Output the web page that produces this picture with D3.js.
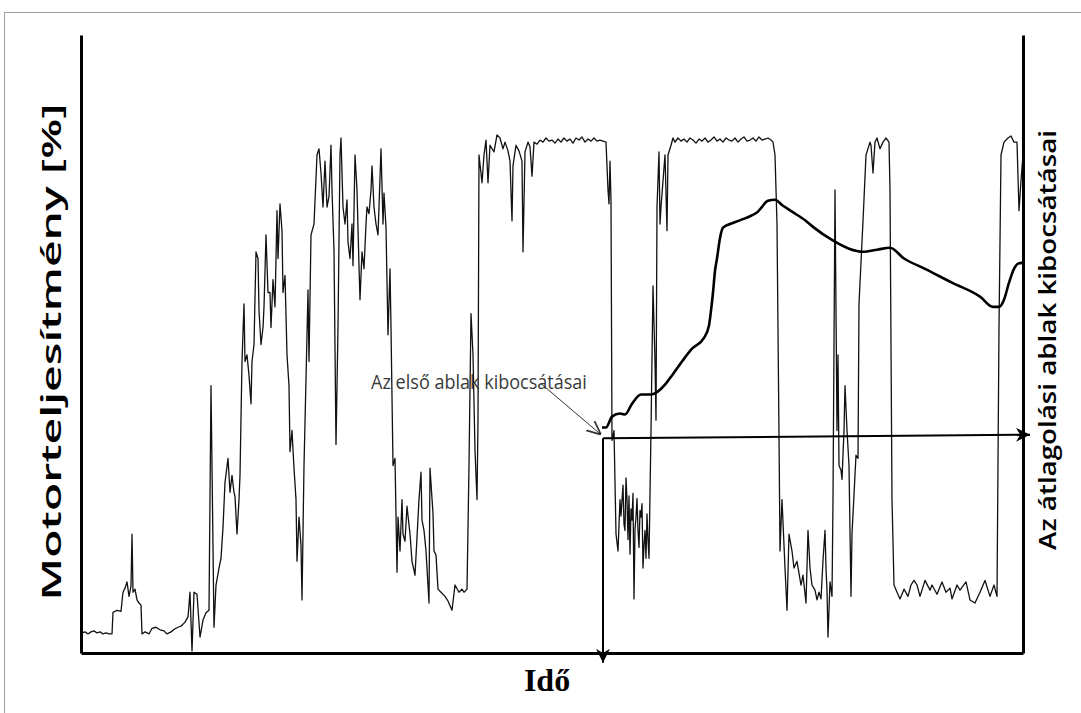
<!DOCTYPE html>
<html>
<head>
<meta charset="utf-8">
<script src="https://cdn.jsdelivr.net/npm/d3@7"></script>
<style>
  body { margin: 0; background: #fff; }
  svg { display: block; }
</style>
</head>
<body>
<div class="svg-container"></div>
<script>
// engine power trace: [time, power %]
const powerTrace = [
  [1,3.9],[4,4.1],[7,3.7],[10,4.1],[13,4.3],[16,3.9],[19,4.1],[22,3.7],[25,3.9],[28,3.7],[31,3.7],
  [32,7.9],[36,8.3],[40,8.1],[42,11.8],[44,12.6],[46,13.8],[48,11.0],[50,13.0],[51,23.1],[52,11.8],
  [54,12.4],[56,10.3],[58,9.7],[60,9.3],[61,3.7],[64,4.1],[68,3.7],[71,4.8],[75,5.0],[79,4.5],[83,4.3],
  [86,3.7],[90,4.1],[94,4.7],[97,5.0],[100,5.2],[104,6.0],[107,7.0],[109,11.8],[111,0.4],[113,11.8],
  [116,11.4],[119,3.1],[122,6.4],[125,7.8],[128,8.3],[130,51.9],[133,5.0],[135,13.2],[138,16.5],
  [140,18.4],[142,24.4],[144,33.1],[147,37.8],[149,31.2],[151,34.5],[153,31.2],[154,30.4],[156,23.1],
  [158,29.8],[159,34.5],[161,56.6],[163,67.8],[164,56.6],[166,57.9],[168,53.9],[170,48.4],[171,56.6],
  [173,59.9],[175,77.9],[177,76.6],[178,66.5],[180,59.9],[182,63.2],[183,67.2],[185,81.2],[187,70.0],
  [189,70.0],[190,63.2],[192,72.5],[194,67.2],[196,85.9],[197,76.6],[199,87.2],[201,82.0],[202,70.0],
  [204,73.3],[206,57.9],[208,51.9],[209,39.1],[211,43.2],[213,35.9],[215,29.8],[216,17.8],[218,26.4],
  [220,20.9],[221,10.3],[223,36.4],[225,53.1],[227,70.5],[228,56.6],[230,81.2],[233,83.3],[236,96.7],
  [238,97.9],[240,93.2],[242,86.6],[244,95.5],[246,86.6],[248,88.6],[250,98.6],[251,89.9],[253,78.1],
  [255,40.5],[257,63.2],[259,96.7],[260,100.0],[262,86.6],[264,83.3],[266,88.0],[267,79.8],[269,76.6],
  [271,83.3],[272,75.2],[274,96.7],[276,89.9],[278,75.2],[279,68.6],[281,77.9],[283,74.6],[285,83.3],
  [286,86.6],[288,85.3],[290,89.9],[291,94.6],[293,86.6],[295,83.3],[297,81.2],[298,86.6],[300,97.9],
  [302,83.3],[303,89.3],[305,82.6],[307,61.8],[309,74.6],[310,63.2],[312,36.4],[314,37.8],[316,15.7],
  [317,26.4],[319,19.8],[321,29.8],[322,23.1],[324,21.7],[326,28.5],[329,23.1],[331,17.8],[334,15.1],
  [338,29.8],[340,35.1],[341,25.8],[343,23.8],[345,19.8],[348,9.7],[349,35.9],[352,27.1],[353,19.8],
  [355,19.0],[357,12.4],[360,11.8],[364,11.0],[367,10.1],[371,8.3],[374,13.2],[378,11.8],[381,12.4],
  [383,11.8],[386,12.4],[388,36.4],[390,65.9],[392,57.9],[394,39.3],[396,29.8],[397,45.2],[398,96.7],
  [401,91.3],[403,96.7],[405,99.6],[407,91.3],[409,98.6],[413,97.3],[416,100.6],[419,100.0],[422,97.9],
  [424,99.2],[427,97.5],[429,95.5],[431,83.9],[432,94.6],[435,98.6],[438,97.5],[441,95.5],[442,77.9],
  [444,97.3],[447,99.2],[449,98.3],[451,92.6],[453,99.2],[456,98.8],[459,99.6],[462,99.2],[465,100.0],
  [468,99.4],[471,99.6],[474,99.0],[477,99.8],[480,99.2],[483,100.0],[486,99.4],[489,99.8],[492,99.0],
  [495,100.0],[498,99.6],[501,100.2],[504,99.2],[507,99.8],[510,99.4],[513,100.0],[516,99.4],[519,99.6],
  [522,99.4],[525,99.2],[527,89.9],[528,87.2],[529,95.5],[530,87.8],[531,41.3],[533,43.2],[535,23.1],
  [537,19.8],[539,29.8],[540,26.6],[542,32.6],[543,25.0],[544,23.8],[545,34.0],[546,29.7],[547,22.0],
  [548,30.5],[549,19.2],[550,28.0],[551,25.8],[552,31.0],[553,10.5],[554,24.0],[555,26.4],[556,30.0],
  [557,23.8],[558,20.5],[559,27.7],[560,26.4],[561,29.0],[562,16.5],[563,21.0],[564,23.8],[565,18.4],
  [566,27.0],[567,21.9],[568,18.4],
  [570,43.2],[572,71.3],[574,56.6],[575,45.2],[576,86.6],[578,97.3],[579,83.3],[580,86.6],[584,96.7],
  [586,82.0],[587,96.7],[590,98.6],[592,100.0],[594,99.2],[597,100.0],[600,99.4],[603,99.8],[606,99.2],
  [609,100.0],[612,99.6],[615,99.0],[618,99.8],[621,99.4],[624,100.0],[627,99.2],[630,99.6],[633,100.2],
  [636,99.4],[639,99.8],[642,99.2],[645,100.0],[648,99.6],[651,99.4],[654,100.0],[657,99.2],[660,99.8],
  [663,100.2],[666,99.4],[669,99.6],[672,100.0],[675,99.4],[678,100.2],[681,99.6],[684,99.8],[687,100.0],
  [690,99.6],[692,99.2],[694,96.7],[696,83.3],[698,42.4],[699,19.8],[701,29.8],[704,16.5],[706,8.3],
  [708,23.1],[711,19.8],[713,16.5],[716,17.8],[720,13.2],[722,15.1],[725,9.7],[727,23.8],[729,16.5],
  [731,13.2],[734,12.2],[736,10.3],[738,11.8],[740,10.5],[742,18.0],[744,23.8],[745,16.5],[746,12.2],
  [747,3.1],[749,13.8],[751,11.0],[752,29.8],[754,89.9],[756,43.2],[757,57.9],[758,36.4],[760,35.5],
  [761,33.7],[763,43.2],[764,51.9],[766,43.2],[768,36.4],[770,11.0],[771,23.1],[775,38.4],[777,37.8],
  [778,67.8],[782,83.9],[785,96.7],[789,99.2],[790,98.6],[792,93.2],[794,99.2],[796,100.0],[799,97.9],
  [802,99.2],[805,100.0],[808,99.2],[809,89.9],[811,29.8],[813,13.2],[816,11.8],[819,10.5],[823,12.4],
  [827,11.0],[830,13.2],[833,14.1],[836,13.2],[839,11.0],[844,14.1],[849,12.2],[851,13.2],[856,11.4],
  [861,13.8],[865,11.8],[869,12.6],[871,10.5],[876,13.2],[879,12.2],[885,13.8],[889,10.3],[894,9.7],
  [899,11.8],[904,14.1],[909,11.0],[913,13.2],[916,11.0],[918,63.2],[920,96.7],[923,99.2],[927,100.0],
  [930,100.4],[933,99.2],[936,99.2],[938,85.9],[940,91.7],[942,96.7]
];

// averaging window emissions (right axis, no scale shown)
const emissions = [
  [521,43.8],[525,43.8],[531,45.9],[539,46.5],[544,46.3],[551,48.4],[560,50.2],[570,50.2],[577,50.8],
  [584,52.1],[591,53.9],[601,56.6],[611,59.1],[623,61.2],[628,63.6],[630,66.5],[632,70.0],[634,74.2],
  [636,76.6],[639,80.6],[642,82.6],[649,83.3],[660,84.1],[670,84.9],[677,85.7],[680,86.4],[687,87.8],
  [694,88.0],[701,87.0],[711,85.7],[725,83.9],[733,82.6],[751,80.2],[768,78.5],[782,77.9],[796,78.3],
  [809,78.7],[823,76.6],[844,74.6],[871,71.9],[899,69.2],[912,67.2],[918,67.2],[923,68.6],[928,71.9],
  [933,74.6],[937,75.6],[942,75.8]
];

const firstWindowLabel = "Az első ablak kibocsátásai";
const calloutFrom = [460, 52.3];
const calloutTo = [520, 42.4];
const windowStart = [522, 41.7];
const windowEnd = [949, 42.4];
const timeBottom = -1.9;

const margin = {top: 35, right: 58, bottom: 60, left: 81};
const width = 1081 - margin.left - margin.right;
const innerH = 618;

const svg = d3.select('.svg-container')
    .append('svg')
    .attr('width', 1081)
    .attr('height', 713);

// outer frame
svg.append('rect')
    .attr('x', 4.5).attr('y', 12.5)
    .attr('width', 1200).attr('height', 900)
    .attr('fill', 'none')
    .attr('stroke', '#a0a0a0')
    .attr('stroke-width', 1);

const g = svg.append('g')
    .attr('transform', `translate(${margin.left}, ${margin.top})`);

const x = d3.scaleLinear().domain([0, 942]).range([0, width]);
const y = d3.scaleLinear().domain([0, 120]).range([innerH, 0]);

const defs = svg.append('defs');
defs.append('marker')
    .attr('id', 'solid')
    .attr('viewBox', '0 0 10 10')
    .attr('refX', 10).attr('refY', 5)
    .attr('markerWidth', 14).attr('markerHeight', 14)
    .attr('markerUnits', 'userSpaceOnUse')
    .attr('orient', 'auto')
  .append('path')
    .attr('d', 'M0,0 L10,5 L0,10 L3,5 Z')
    .attr('fill', '#000');
defs.append('marker')
    .attr('id', 'open')
    .attr('viewBox', '0 0 10 10')
    .attr('refX', 10).attr('refY', 5)
    .attr('markerWidth', 14).attr('markerHeight', 14)
    .attr('markerUnits', 'userSpaceOnUse')
    .attr('orient', 'auto')
  .append('path')
    .attr('d', 'M0,0.5 L10,5 L0,9.5')
    .attr('fill', 'none')
    .attr('stroke', '#333')
    .attr('stroke-width', 1.2);

const line = d3.line()
    .x(d => x(d[0]))
    .y(d => y(d[1]));

g.append('path')
    .datum(powerTrace)
    .attr('fill', 'none')
    .attr('stroke', '#111')
    .attr('stroke-width', 1.3)
    .attr('stroke-linejoin', 'round')
    .attr('d', line);

g.append('path')
    .datum(emissions)
    .attr('fill', 'none')
    .attr('stroke', '#000')
    .attr('stroke-width', 2.6)
    .attr('stroke-linejoin', 'round')
    .attr('d', line.curve(d3.curveMonotoneX));

// window arrows
g.append('line')
    .attr('x1', x(windowStart[0])).attr('y1', y(windowStart[1]))
    .attr('x2', x(windowEnd[0])).attr('y2', y(windowEnd[1]))
    .attr('stroke', '#000').attr('stroke-width', 2)
    .attr('marker-end', 'url(#solid)');

g.append('line')
    .attr('x1', x(windowStart[0])).attr('y1', y(windowStart[1]))
    .attr('x2', x(windowStart[0])).attr('y2', y(timeBottom))
    .attr('stroke', '#000').attr('stroke-width', 2)
    .attr('marker-end', 'url(#solid)');

// callout
g.append('line')
    .attr('x1', x(calloutFrom[0])).attr('y1', y(calloutFrom[1]))
    .attr('x2', x(calloutTo[0])).attr('y2', y(calloutTo[1]))
    .attr('stroke', '#333').attr('stroke-width', 1)
    .attr('marker-end', 'url(#open)');

// text stretched to a given length (the source picture is stretched)
function stretchedText(parent, str, font, length, place) {
  const t = parent.append('text')
      .attr('text-anchor', 'middle')
      .style('font', font)
      .text(str);
  const k = length / t.node().getComputedTextLength();
  t.attr('transform', `${place} scale(${k},1)`);
  return t;
}

stretchedText(g, firstWindowLabel, '20px "Open Sans", sans-serif', 216,
    `translate(${x(calloutFrom[0]) + 46 - 108},${y(calloutFrom[1]) + 5})`)
    .attr('fill', '#3a3a3a');

// axes
g.append('g')
    .attr('class', 'axis axis--x')
    .attr('transform', `translate(0,${innerH})`)
    .call(d3.axisBottom(x).ticks(0).tickSizeOuter(0));

g.append('g')
    .attr('class', 'axis axis--y')
    .call(d3.axisLeft(y).ticks(0).tickSizeOuter(0));

g.append('g')
    .attr('class', 'axis axis--y2')
    .attr('transform', `translate(${width},0)`)
    .call(d3.axisRight(y).ticks(0).tickSizeOuter(0));

g.selectAll('.axis path')
    .attr('stroke', '#000')
    .attr('stroke-width', 3);

// titles
stretchedText(g, 'Motorteljesítmény [%]', '600 27px "Open Sans", sans-serif', 497,
    `translate(-20,317) rotate(-90)`);

stretchedText(g, 'Az átlagolási ablak kibocsátásai', '600 23px "Open Sans", sans-serif', 420,
    `translate(${width + 33},305) rotate(-90)`);

g.append('text')
    .attr('x', x(windowStart[0]) - 56)
    .attr('y', innerH + 38)
    .attr('text-anchor', 'middle')
    .style('font', 'bold 32px "Liberation Serif", serif')
    .text('Idő');
</script>
</body>
</html>
